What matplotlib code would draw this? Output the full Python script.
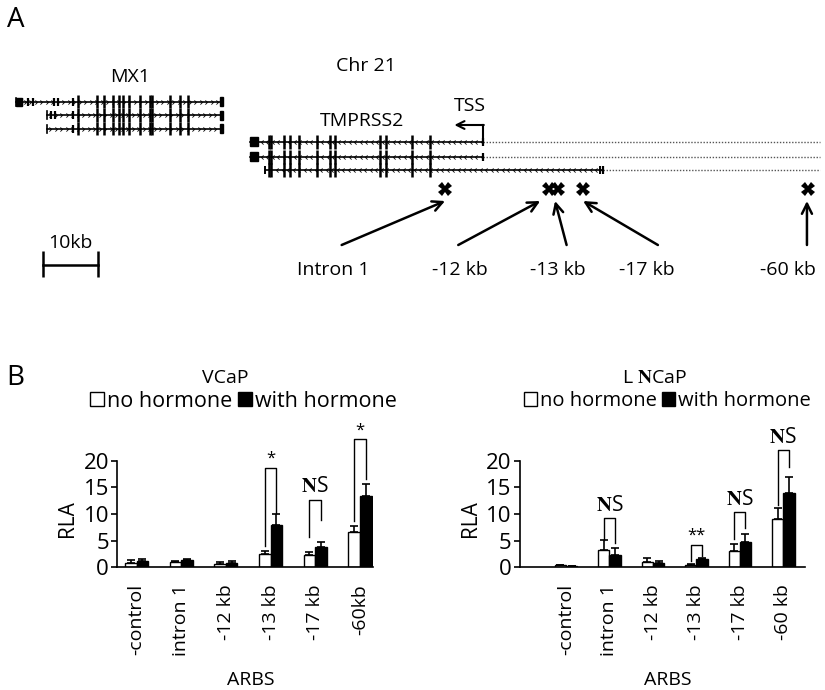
import matplotlib.pyplot as plt
import numpy as np
from matplotlib.patches import Patch

plt.rcParams['font.family'] = ['Open Sans', 'DejaVu Sans']
plt.rcParams['mathtext.fontset'] = 'stix'

W, H = 825, 690

# ---- panel A gene map: x in kb upstream of the TMPRSS2 TSS, y in pixel rows
mx1_rows = [101.5, 115, 128.5]
mx1_start = [-84.9, -79.3, -79.3]
mx1_end = -47.3
mx1_exons = [-73.7, -70.1, -68.9, -67.3, -66.1, -65.4, -64.3, -62.4, -60.6, -60.1, -56.9, -55.1, -53.6]
mx1_small = [[-83.8, -82.7, -81.9, -78.0, -77.3, -74.5], [-78.6, -77.9, -74.5], [-74.5]]

tmp_rows = [141.7, 156.5, 170]
tmp_start = [-42.4, -42.4, -39.6]
tmp_end = [0, 0, 21.8]
tmp_exons = [-39.0, -38.6, -36.1, -35.1, -33.4, -30.2, -27.9, -27.0, -18.7, -17.7, -13.0, -9.6]
region_end = 61.3

arbs_kb = [-6.9, 12.0, 13.6, 18.1, 59.1]
arbs_names = ['Intron 1', '-12 kb', '-13 kb', '-17 kb', '-60 kb']

# ---- panel B data
vcap_labels = ['-control', 'intron 1', '-12 kb', '-13 kb', '-17 kb', '-60kb']
vcap_no = [0.9, 1.0, 0.7, 2.5, 2.3, 6.6]
vcap_no_err = [0.5, 0.2, 0.3, 0.6, 0.6, 1.2]
vcap_with = [1.1, 1.3, 0.9, 7.9, 3.9, 13.4]
vcap_with_err = [0.5, 0.2, 0.2, 2.1, 0.8, 2.2]
vcap_sig = [(3, 4.0, 18.7, 10.2, '*'), (4, 5.7, 12.7, 8.9, 'NS'), (5, 8.6, 24.0, 16.5, '*')]

lncap_labels = ['-control', 'intron 1', '-12 kb', '-13 kb', '-17 kb', '-60 kb']
lncap_no = [0.4, 3.2, 1.0, 0.5, 3.1, 9.0]
lncap_no_err = [0.1, 2.0, 0.7, 0.2, 1.2, 2.1]
lncap_with = [0.2, 2.4, 0.9, 1.6, 4.8, 13.9]
lncap_with_err = [0.05, 1.2, 0.3, 0.2, 1.4, 3.1]
lncap_sig = [(1, 5.1, 9.2, 4.5, 'NS'), (3, 1.1, 4.2, 2.2, '**'), (4, 5.4, 10.4, 7.3, 'NS'), (5, 11.7, 22.0, 18.8, 'NS')]


def fx(x):
    return x / W


def fy(y):
    return 1 - y / H


fig = plt.figure(figsize=(8.25, 6.9), dpi=100)

# ---------------- A
ax = fig.add_axes([0, 0, 1, 1])
ax.set_xlim((0 - 483) / 5.5, (W - 483) / 5.5)
ax.set_ylim(H, 0)
ax.axis('off')

right_chev = [(-1, 1), (0, 0), (-1, -1)]
left_chev = [(1, 1), (0, 0), (1, -1)]

for i, y in enumerate(mx1_rows):
    ax.plot([mx1_start[i], mx1_end], [y, y], color='black', lw=1.2)
    ch = np.arange(mx1_start[i] + 0.8, mx1_end - 0.5, 1.0)
    ax.plot(ch, [y] * len(ch), ls='none', marker=right_chev, ms=3, mfc='none', mec='black', mew=0.6)
    ax.vlines(mx1_exons, y - 6.8, y + 6.8, color='black', lw=1.8)
    ax.vlines(mx1_small[i], y - 4, y + 4, color='black', lw=1.6)
    ax.plot([mx1_start[i], mx1_start[i]], [y - 4, y + 4], color='black', lw=1.2)
    ax.add_patch(plt.Rectangle((mx1_end - 0.5, y - 4.5), 0.6, 9, color='black'))
ax.add_patch(plt.Rectangle((mx1_start[0], mx1_rows[0] - 4), 1.1, 8, color='black'))

for i, y in enumerate(tmp_rows):
    ax.plot([tmp_start[i], tmp_end[i]], [y, y], color='black', lw=1.2)
    ax.plot([tmp_end[i], region_end], [y, y], color='#555555', lw=1.0, ls=(0, (1, 1.2)))
    ch = np.arange(tmp_start[i] + 2.0, tmp_end[i] - 0.3, 1.0)
    ax.plot(ch, [y] * len(ch), ls='none', marker=left_chev, ms=3, mfc='none', mec='black', mew=0.6)
    ax.vlines(tmp_exons, y - 7, y + 7, color='black', lw=1.8)
    ax.vlines([tmp_end[i]], y - 4, y + 4, color='black', lw=1.6)
    if i < 2:
        ax.add_patch(plt.Rectangle((tmp_start[i], y - 4.5), 1.5, 9, color='black'))
    else:
        ax.vlines([tmp_end[i] - 0.5, tmp_start[i]], y - 4, y + 4, color='black', lw=1.4)

# TSS arrow
ax.plot([0, 0], [tmp_rows[0], 125], color='black', lw=1.5)
ax.annotate('', xy=(-5.2, 125), xytext=(0.15, 125),
            arrowprops=dict(arrowstyle='->', lw=1.5, color='black', shrinkA=0, shrinkB=0,
                            mutation_scale=14))

# ARBS markers and arrows
ax.plot(arbs_kb, [189] * len(arbs_kb), ls='none', marker='X', ms=10, color='black', mew=0)
label_kb = [-27.3, -4.2, 13.6, 29.8, 55.5]
tail_kb = [-25.7, -4.5, 15.2, 31.8, 58.9]
head_kb = [-6.9, 10.4, 13.1, 18.2, 58.9]
for i, name in enumerate(arbs_names):
    ax.annotate('', xy=(head_kb[i], 201), xytext=(tail_kb[i], 245),
                arrowprops=dict(arrowstyle='->', lw=1.8, color='black', shrinkA=0, shrinkB=0,
                                mutation_scale=18))
    ax.text(label_kb[i], 270, name, ha='center', va='center', fontsize=14)

# scale bar
ax.plot([-80, -70], [265, 265], color='black', lw=1.8)
ax.vlines([-80, -70], 251, 277, color='black', lw=1.8)
ax.text(-75, 243, '10kb', ha='center', va='center', fontsize=14)

fig.text(fx(16), fy(20), 'A', ha='center', va='center', fontsize=20)
fig.text(fx(366), fy(66), 'Chr 21', ha='center', va='center', fontsize=14)
fig.text(fx(130), fy(77), 'MX1', ha='center', va='center', fontsize=14)
fig.text(fx(362), fy(121), 'TMPRSS2', ha='center', va='center', fontsize=14)
fig.text(fx(470), fy(106), 'TSS', ha='center', va='center', fontsize=14)

# ---------------- B
fig.text(fx(15), fy(378), 'B', ha='center', va='center', fontsize=20)

w = 0.26


def bar_panel(left_px, right_px, xlim, labels, no, no_err, wi, wi_err, sig, title, title_x,
              legend_x, legend_fs):
    y0, y20 = 567.3, 460.7
    a = fig.add_axes([fx(left_px), fy(y0), (right_px - left_px) / W, (y0 - y20) / H])
    x = np.arange(len(labels))
    a.bar(x - w / 2, no, w, color='white', edgecolor='black', lw=1.0,
          yerr=[np.zeros(len(no)), no_err], error_kw=dict(lw=1.2, capsize=3, capthick=1.2))
    a.bar(x + w / 2, wi, w, color='black', edgecolor='black', lw=1.0,
          yerr=[np.zeros(len(wi)), wi_err], error_kw=dict(lw=1.2, capsize=3, capthick=1.2))
    a.set_xlim(*xlim)
    a.set_ylim(0, 20)
    a.set_yticks([0, 5, 10, 15, 20])
    a.set_xticks(x)
    a.set_xticklabels(labels, rotation=90, fontsize=14)
    a.tick_params(axis='x', length=0, pad=12)
    a.tick_params(axis='y', length=4, width=1.2, labelsize=16, pad=2)
    for s in ['top', 'right']:
        a.spines[s].set_visible(False)
    a.spines['left'].set_linewidth(1.2)
    a.spines['bottom'].set_linewidth(1.2)
    for k, lb, top, rb, txt in sig:
        xl, xr = k - w / 2, k + w / 2
        a.plot([xl, xl, xr, xr], [lb, top, top, rb], color='black', lw=1.0, clip_on=False)
        if txt == 'NS':
            a.text(k, top + 0.4, r'$\mathbf{N}$S', ha='center', va='bottom', fontsize=15, clip_on=False)
        else:
            a.text(k, top + 0.2, txt, ha='center', va='bottom', fontsize=12, clip_on=False)
    fig.text(fx(title_x), fy(378), title, ha='center', va='center', fontsize=14)
    handles = [Patch(facecolor='white', edgecolor='black', lw=1.0), Patch(facecolor='black', edgecolor='black')]
    fig.legend(handles, ['no hormone', 'with hormone'], loc='center left',
               bbox_to_anchor=(fx(legend_x), fy(401)),
               ncol=2, frameon=False, fontsize=legend_fs, handlelength=0.65, handleheight=0.65,
               handletextpad=0.15, columnspacing=0.25, borderaxespad=0, borderpad=0)
    fig.text(fx((left_px + right_px) / 2 + 5), fy(680), 'ARBS', ha='center', va='center', fontsize=14)
    fig.text(fx(left_px - 50), fy(519), 'RLA', rotation=90, ha='center', va='center', fontsize=15)
    return a


bar_panel(117.3, 373.3, (-0.43, 5.3), vcap_labels, vcap_no, vcap_no_err, vcap_with, vcap_with_err,
          vcap_sig, 'VCaP', 225, 90, 15.5)
bar_panel(520, 805, (-1.06, 5.5), lncap_labels, lncap_no, lncap_no_err, lncap_with, lncap_with_err,
          lncap_sig, r'L $\mathbf{N}$CaP', 655, 524, 14.5)

fig.savefig('out.png', dpi=100)
